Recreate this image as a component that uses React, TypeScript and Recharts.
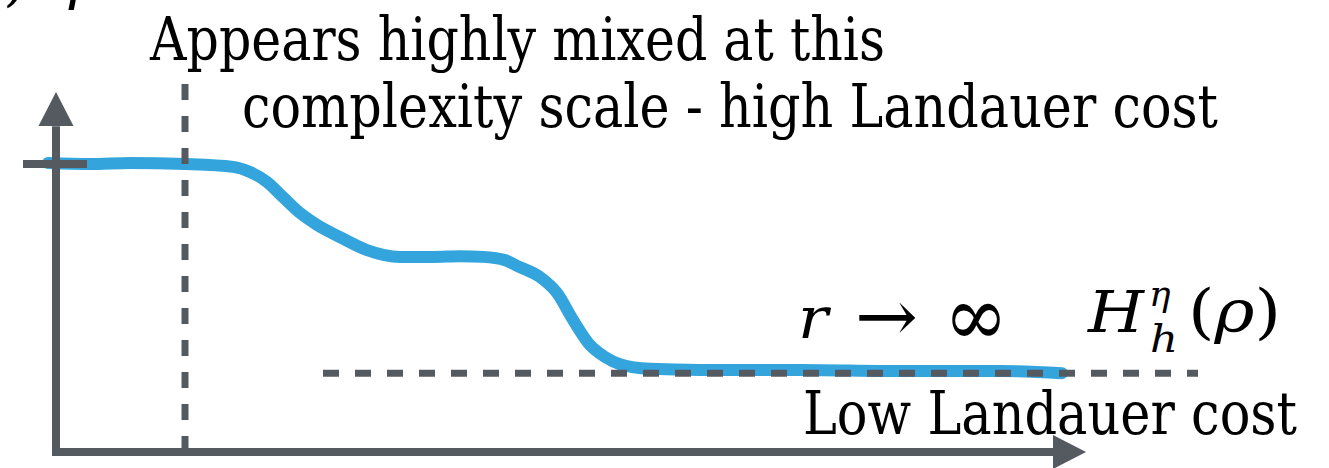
import { Line, LineChart, ReferenceDot, ReferenceLine, XAxis, YAxis } from "recharts";

// complexity scale (x) against apparent entropy (y), hand-drawn style curve
const scale = [
  -0.08, 0.34, 0.74, 1.29, 1.77, 1.94, 2.11, 2.27, 2.44, 2.61, 2.84, 3.11, 3.44, 3.77, 4.04,
  4.27, 4.49, 4.61, 4.84, 5.01, 5.17, 5.34, 5.49, 5.64, 5.94, 6.44, 7.44, 8.44, 9.44, 10.06,
];
const entropy = [
  8.03, 8.0, 8.03, 8.0, 7.92, 7.78, 7.5, 7.08, 6.64, 6.31, 5.97, 5.61, 5.42, 5.42, 5.44,
  5.42, 5.33, 5.17, 4.86, 4.42, 3.67, 2.97, 2.64, 2.44, 2.31, 2.28, 2.28, 2.25, 2.25, 2.19,
];

// guide values
const maxEntropy = 8.0;
const markedScale = 1.29;
const limitEntropy = 2.19;

const data = scale.map((x, i) => ({ x, y: entropy[i] }));

const AXIS = "#555a61";
const BLUE = "#34a5dc";
const serif = { fontFamily: "DejaVu Serif", fill: "#000" };
const italic = { ...serif, fontStyle: "italic" as const };
const squeeze = { lengthAdjust: "spacingAndGlyphs" as const };

const UpArrow = (props: any) => {
  const { cx, cy } = props;
  return <path d={`M${cx},${cy} L${cx + 17.5},${cy + 34} L${cx - 17.5},${cy + 34} Z`} fill={AXIS} />;
};

const RightArrow = (props: any) => {
  const { cx, cy } = props;
  return <path d={`M${cx},${cy} L${cx - 33},${cy - 17} L${cx - 33},${cy + 17} Z`} fill={AXIS} />;
};

export default function App() {
  return (
    <div style={{ position: "absolute", left: 0, top: 0, background: "#fff" }}>
      <LineChart
        width={1329}
        height={468}
        data={data}
        margin={{ top: 20, right: 23, bottom: 16, left: 6 }}
      >
        <XAxis type="number" dataKey="x" domain={[-0.5, 12.5]} hide />
        <YAxis type="number" domain={[0, 12]} hide />
        <Line
          type="monotone"
          dataKey="y"
          stroke={BLUE}
          strokeWidth={12}
          strokeLinecap="round"
          strokeLinejoin="round"
          dot={false}
          isAnimationActive={false}
        />
        {/* axes */}
        <ReferenceLine
          segment={[{ x: 0, y: -0.11 }, { x: 0, y: 9.05 }]}
          stroke={AXIS}
          strokeWidth={8}
          ifOverflow="visible"
        />
        <ReferenceLine
          segment={[{ x: -0.04, y: 0 }, { x: 9.98, y: 0 }]}
          stroke={AXIS}
          strokeWidth={8}
          ifOverflow="visible"
        />
        <ReferenceDot x={0} y={10} r={0} shape={UpArrow} ifOverflow="visible" />
        <ReferenceDot x={10.3} y={0} r={0} shape={RightArrow} ifOverflow="visible" />
        <ReferenceLine
          segment={[{ x: -0.33, y: maxEntropy }, { x: 0.31, y: maxEntropy }]}
          stroke={AXIS}
          strokeWidth={8}
          ifOverflow="visible"
        />
        {/* dashed guides */}
        <ReferenceLine
          segment={[{ x: markedScale, y: 0 }, { x: markedScale, y: 10.6 }]}
          stroke={AXIS}
          strokeWidth={7}
          strokeDasharray="16 16"
          ifOverflow="visible"
        />
        <ReferenceLine
          segment={[{ x: 2.67, y: limitEntropy }, { x: 11.42, y: limitEntropy }]}
          stroke={AXIS}
          strokeWidth={7}
          strokeDasharray="16 16"
          ifOverflow="visible"
        />
        {/* annotations */}
        <text x={3} y={-1} fontSize={60} style={serif}>)</text>
        <text x={46} y={-2} fontSize={60} style={italic}>η</text>
        <text x={150} y={60} fontSize={59} textLength={735} {...squeeze} style={serif}>
          Appears highly mixed at this
        </text>
        <text x={242} y={127} fontSize={59} textLength={976} {...squeeze} style={serif}>
          complexity scale - high Landauer cost
        </text>
        <text x={803} y={434} fontSize={59} textLength={494} {...squeeze} style={serif}>
          Low Landauer cost
        </text>
        <text x={798} y={338} fontSize={58} textLength={30} {...squeeze} style={italic}>r</text>
        <text x={855} y={341} fontSize={72} textLength={63} {...squeeze} style={serif}>→</text>
        <text x={944} y={345} fontSize={84} textLength={64} {...squeeze} style={serif}>∞</text>
        <text x={1088} y={332} fontSize={58} textLength={56} {...squeeze} style={italic}>H</text>
        <text x={1149} y={306} fontSize={36} style={italic}>η</text>
        <text x={1150} y={352} fontSize={40} textLength={28} {...squeeze} style={italic}>h</text>
        <text x={1188} y={332} fontSize={60} textLength={93} {...squeeze} style={serif}>
          (<tspan style={{ fontStyle: "italic" }}>ρ</tspan>)
        </text>
      </LineChart>
    </div>
  );
}
